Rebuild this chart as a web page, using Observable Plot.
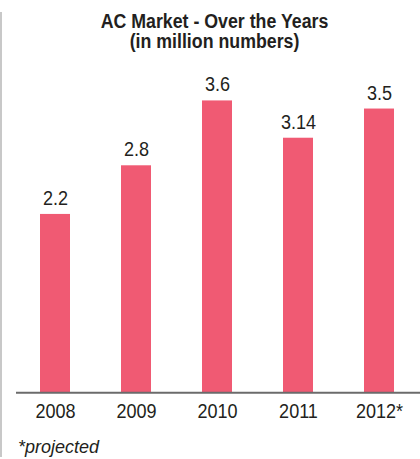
<!DOCTYPE html>
<html>
<head>
<meta charset="utf-8">
<script src="https://cdn.jsdelivr.net/npm/d3@7"></script>
<script src="https://cdn.jsdelivr.net/npm/@observablehq/plot@0.6"></script>
<style>
  html, body { margin: 0; padding: 0; background: #fff; }
  #wrap { position: relative; width: 420px; height: 459px; overflow: hidden;
    font-family: "Liberation Sans", Arial, sans-serif; color: #231f20; }
  #edge { position: absolute; left: 0; top: 12px; width: 2px; height: 445px; background: #c8c8c8; }
  .title { position: absolute; left: 0; width: 429px; text-align: center;
    font-weight: bold; font-size: 20px; line-height: 20px; white-space: nowrap;
    transform: scaleX(0.888); transform-origin: 214.5px 0; }
  #t1 { top: 10.8px; }
  #t2 { top: 30.8px; }
  #caption { position: absolute; left: 18px; top: 436.5px; font-style: italic; font-size: 18px; line-height: 20px; }
  svg { position: absolute; left: 0; top: 0; }
</style>
</head>
<body>
<div id="wrap">
  <div id="edge"></div>
  <div class="title" id="t1">AC Market - Over the Years</div>
  <div class="title" id="t2">(in million numbers)</div>
  <div id="caption">*projected</div>
</div>
<script>
const years = ["2008", "2009", "2010", "2011", "2012*"];
const values = [2.2, 2.8, 3.6, 3.14, 3.5];
const labels = ["2.2", "2.8", "3.6", "3.14", "3.5"];

const data = years.map((y, i) => ({year: y, value: values[i], label: labels[i]}));
const font = '"Liberation Sans", Arial, sans-serif';

const chart = Plot.plot({
  width: 420,
  height: 459,
  marginTop: 68,
  marginBottom: 66.7,
  marginLeft: 16,
  marginRight: 2,
  style: {fontFamily: font, fontSize: "20.5px", color: "#231f20", background: "transparent", overflow: "visible"},
  x: {domain: years, paddingInner: 0.627, paddingOuter: 0.282, label: null},
  y: {domain: [0, 4], axis: null},
  marks: [
    Plot.barY(data, {x: "year", y: "value", fill: "#f05a73"}),
    Plot.ruleY([0], {stroke: "#6b6b6b", strokeWidth: 2, insetRight: -2}),
    Plot.text(data, {x: "year", y: "value", text: "label", lineAnchor: "bottom", dy: -9.5,
      fontSize: 20.5, fill: "#231f20"}),
    Plot.axisX({tickSize: 0, tickPadding: 11, fontSize: 20.5, fill: "#231f20", label: null})
  ]
});
// condense the text horizontally around each label's anchor point
chart.querySelectorAll("text").forEach(t => {
  const tr = t.getAttribute("transform") || "";
  const x = +(t.getAttribute("x") || 0);
  t.setAttribute("transform", `${tr} translate(${x},0) scale(0.88,1) translate(${-x},0)`.trim());
});
document.getElementById("wrap").appendChild(chart);
</script>
</body>
</html>
